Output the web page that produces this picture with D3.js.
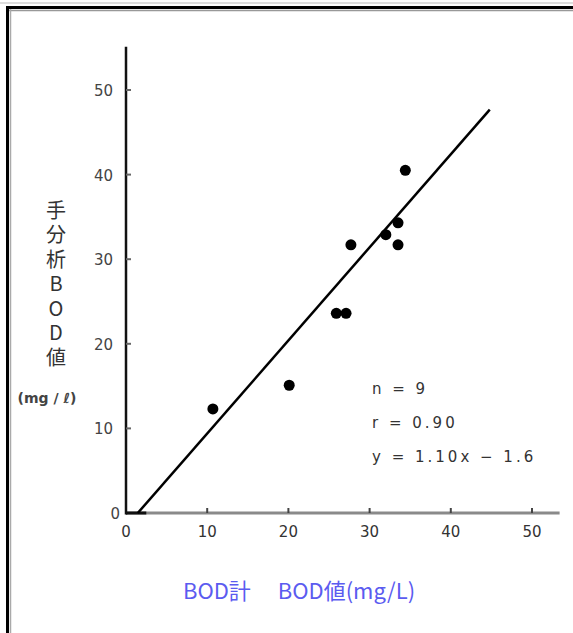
<!DOCTYPE html>
<html>
<head>
<meta charset="utf-8">
<script src="https://cdn.jsdelivr.net/npm/d3@7"></script>
<style>
  body { margin: 0; background: #fff; }
  svg { display: block; }
</style>
</head>
<body>
<div id="chart"></div>
<script>
    // measured values (BOD meter vs. manual analysis)
    var bodMeter  = [10.7, 20.1, 25.9, 27.1, 27.7, 32.0, 33.5, 33.5, 34.4];
    var bodManual = [12.3, 15.1, 23.6, 23.6, 31.7, 32.9, 31.7, 34.3, 40.5];
    var tickValues = [0, 10, 20, 30, 40, 50];
    var fitSlope = 1.10, fitIntercept = -1.6;
    var fitRange = [1.45, 44.8];
    var statLines = ["n = 9", "r = 0.90", "y = 1.10x − 1.6"];
    var yTitle = "手分析BOD値";

    var width = 573, height = 633;

    var svg = d3.select("#chart").append("svg")
        .attr("width", width)
        .attr("height", height);

    // frame
    svg.append("rect").attr("x", 0).attr("y", 0).attr("width", width).attr("height", height).attr("fill", "#fff");
    svg.append("line").attr("x1", 0).attr("x2", width).attr("y1", 3).attr("y2", 3)
        .attr("stroke", "#bbb").attr("stroke-width", 1);
    svg.append("line").attr("x1", 6).attr("x2", width).attr("y1", 7.5).attr("y2", 7.5)
        .attr("stroke", "#000").attr("stroke-width", 3);
    svg.append("line").attr("x1", 9).attr("x2", width).attr("y1", 10.5).attr("y2", 10.5)
        .attr("stroke", "#999").attr("stroke-width", 1.5);
    svg.append("line").attr("x1", 7.5).attr("x2", 7.5).attr("y1", 6).attr("y2", height)
        .attr("stroke", "#000").attr("stroke-width", 3);
    svg.append("line").attr("x1", 10.5).attr("x2", 10.5).attr("y1", 9).attr("y2", height)
        .attr("stroke", "#aaa").attr("stroke-width", 1.5);

    var x = d3.scaleLinear().domain([0, 50]).range([126, 532]);
    var y = d3.scaleLinear().domain([0, 50]).range([513, 90]);

    var g = svg.append("g");

    // axis lines
    g.append("line")
        .attr("x1", x(0)).attr("x2", x(53.4))
        .attr("y1", y(0)).attr("y2", y(0))
        .attr("stroke", "#8a8a8a").attr("stroke-width", 3);
    g.append("line")
        .attr("x1", x(0)).attr("x2", x(2.5))
        .attr("y1", y(0)).attr("y2", y(0))
        .attr("stroke", "#111").attr("stroke-width", 3);
    g.append("line")
        .attr("x1", x(0)).attr("x2", x(0))
        .attr("y1", y(55.1)).attr("y2", y(0) + 1.5)
        .attr("stroke", "#111").attr("stroke-width", 2.5);

    // x ticks
    g.selectAll(".xt").data(tickValues.slice(1)).enter().append("line")
        .attr("x1", function(d){ return x(d); }).attr("x2", function(d){ return x(d); })
        .attr("y1", y(0) - 5).attr("y2", y(0))
        .attr("stroke", "#444").attr("stroke-width", 2);
    g.selectAll(".xl").data(tickValues).enter().append("text")
        .attr("x", function(d){ return x(d); })
        .attr("y", y(0) + 24)
        .attr("text-anchor", "middle")
        .attr("font-family", "'DejaVu Sans', sans-serif")
        .attr("font-size", 15)
        .attr("fill", "#333")
        .text(function(d){ return d; });

    // y ticks
    g.selectAll(".yt").data(tickValues.slice(1)).enter().append("line")
        .attr("x1", x(0)).attr("x2", x(0) + 5)
        .attr("y1", function(d){ return y(d); }).attr("y2", function(d){ return y(d); })
        .attr("stroke", "#666").attr("stroke-width", 2);
    g.selectAll(".yl").data(tickValues).enter().append("text")
        .attr("x", function(d){ return d === 0 ? x(0) - 6 : x(0) - 13; })
        .attr("y", function(d){ return y(d) + 6; })
        .attr("text-anchor", "end")
        .attr("font-family", "'DejaVu Sans', sans-serif")
        .attr("font-size", 15)
        .attr("fill", "#444")
        .text(function(d){ return d; });

    // regression line
    g.append("line")
        .attr("x1", x(fitRange[0])).attr("y1", y(fitSlope * fitRange[0] + fitIntercept))
        .attr("x2", x(fitRange[1])).attr("y2", y(fitSlope * fitRange[1] + fitIntercept))
        .attr("stroke", "#000").attr("stroke-width", 2.5);

    // points
    g.selectAll("circle").data(bodMeter).enter().append("circle")
        .attr("cx", function(d){ return x(d); })
        .attr("cy", function(d, i){ return y(bodManual[i]); })
        .attr("r", 5.5)
        .attr("fill", "#000");

    // stats
    g.selectAll(".st").data(statLines).enter().append("text")
        .attr("x", 372)
        .attr("y", function(d, i){ return 394 + i * 34; })
        .attr("font-family", "'DejaVu Sans', sans-serif")
        .attr("font-size", 15)
        .attr("letter-spacing", 3)
        .attr("fill", "#333")
        .text(function(d){ return d; });

    // y title, written top to bottom
    g.append("text")
        .attr("x", 56).attr("y", 200)
        .attr("font-family", "'Noto Sans CJK JP', sans-serif")
        .attr("font-size", 20)
        .attr("fill", "#333")
        .style("writing-mode", "vertical-rl")
        .style("text-orientation", "upright")
        .attr("letter-spacing", 4.5)
        .text(yTitle);
    g.append("text")
        .attr("x", 47).attr("y", 403)
        .attr("text-anchor", "middle")
        .attr("font-family", "'DejaVu Sans', sans-serif")
        .attr("font-size", 14)
        .attr("font-weight", "bold")
        .attr("fill", "#444")
        .text("(mg / ℓ)");

    // x title
    g.append("text")
        .attr("x", 299).attr("y", 599)
        .attr("text-anchor", "middle")
        .attr("font-family", "'Noto Sans CJK JP', sans-serif")
        .attr("font-size", 22)
        .attr("fill", "#5b5bf0")
        .attr("xml:space", "preserve")
        .text("BOD計　 BOD値(mg/L)");
</script>
</body>
</html>
